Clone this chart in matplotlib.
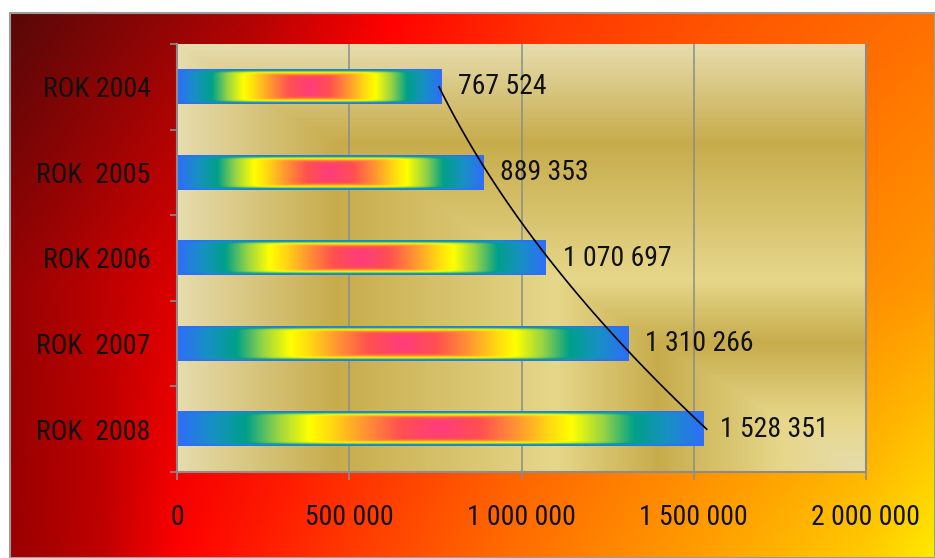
#!/usr/bin/env python3
# -*- coding: utf-8 -*-

# Liczba ... w latach 2004-2008, wykres słupkowy poziomy z gradientami

import numpy as np
import matplotlib
matplotlib.use("Agg")
import matplotlib.pyplot as plt
from matplotlib import font_manager
from matplotlib.colors import LinearSegmentedColormap, to_rgb
from matplotlib.patches import Rectangle
from matplotlib.ticker import FuncFormatter, FixedLocator

# dane
lata = ["ROK 2004", "ROK  2005", "ROK 2006", "ROK  2007", "ROK  2008"]
wartosci = [767524, 889353, 1070697, 1310266, 1528351]
os_x_ticks = [0, 500000, 1000000, 1500000, 2000000]

W_PX, H_PX = 935, 558

# czcionka wąska (jak Arial Narrow), jeśli jest zainstalowana
fonty = font_manager.fontManager.ttflist
waska = None
for f in fonty:
    if f.name in ("Liberation Sans Narrow", "Arial Narrow"):
        waska = (f.name, "normal")
        break
if waska is None:
    for f in fonty:
        if f.name in ("Roboto Condensed", "Open Sans Condensed", "Noto Sans Condensed"):
            waska = (f.name, "normal")
            break
if waska is None:
    for f in fonty:
        if f.name == "DejaVu Sans" and str(f.stretch) in ("condensed", "semi-condensed", "75", "87"):
            waska = ("DejaVu Sans", f.stretch)
            break

if waska is not None:
    plt.rcParams["font.family"] = [waska[0], "DejaVu Sans"]
    plt.rcParams["font.stretch"] = waska[1]
    ROZMIAR = 20
else:
    # brak wąskiej czcionki: Liberation Sans, mniejszy rozmiar (podobna szerokość)
    plt.rcParams["font.family"] = ["Liberation Sans", "DejaVu Sans"]
    ROZMIAR = 17


def fmt(v, pos=None):
    return f"{int(round(v)):,}".replace(",", " ")


def gradient_2d(rows, w, h):
    """Tło: interpolacja kolorów z kilku wierszy kluczowych (pozycje 0..1)"""
    xs = np.linspace(0, 1, w)
    ys = np.linspace(0, 1, h)
    row_pos = [r[0] for r in rows]
    row_img = []
    for _, stops in rows:
        px = [s[0] for s in stops]
        cols = np.array([to_rgb(s[1]) for s in stops])
        row_img.append(np.stack([np.interp(xs, px, cols[:, c]) for c in range(3)], axis=-1))
    row_img = np.array(row_img)
    img = np.empty((h, w, 3))
    for c in range(3):
        for j in range(w):
            img[:, j, c] = np.interp(ys, row_pos, row_img[:, j, c])
    return img


fig = plt.figure(figsize=(W_PX / 100, H_PX / 100), dpi=100, facecolor="white")

# tło całego wykresu (gradient "ogień")
bx0, bw, bh = 10 / W_PX, 925 / W_PX, 545 / H_PX
ax_bg = fig.add_axes([bx0, 0, bw, bh], zorder=-1)
ax_bg.axis("off")
rows = [
    (0.0, [(0.0, "#580808"), (0.12, "#800606"), (0.26, "#b00404"), (0.41, "#ff0000"),
           (0.58, "#ff3400"), (0.77, "#ff5400"), (1.0, "#ff7000")]),
    (0.5, [(0.0, "#960303"), (0.17, "#d80000"), (0.30, "#ff0000"), (0.52, "#ff4400"),
           (0.75, "#ff7400"), (1.0, "#ff9800")]),
    (1.0, [(0.0, "#9a0000"), (0.10, "#c00000"), (0.18, "#ff0000"), (0.37, "#ff3c00"),
           (0.55, "#ff7000"), (0.75, "#ffa000"), (0.93, "#ffcc00"), (1.0, "#ffea00")]),
]
ax_bg.imshow(gradient_2d(rows, 300, 180), extent=[0, 1, 0, 1], aspect="auto",
             interpolation="bilinear")
ax_bg.set_xlim(0, 1)
ax_bg.set_ylim(0, 1)
fig.add_artist(Rectangle((bx0, 0), bw, bh, transform=fig.transFigure, fill=False,
                         edgecolor="#9c9c9c", linewidth=1.5, zorder=5))

# obszar kreślenia
ax = fig.add_axes([177 / W_PX, 86 / H_PX, 689 / W_PX, 428 / H_PX])
ax.patch.set_visible(False)

# złote tło obszaru kreślenia (gradient prostokątny od prawego dolnego rogu)
gold = LinearSegmentedColormap.from_list("gold", [
    (0.0, "#e6dcac"), (0.12, "#e6d78a"), (0.30, "#c7ac4c"),
    (0.45, "#e6d78a"), (0.77, "#c7ac4c"), (1.0, "#e6dcac")])
gx, gy = np.meshgrid(np.linspace(0, 1, 400), np.linspace(1, 0, 300))
d_gold = np.maximum(1 - gx, gy)
ax.imshow(d_gold, cmap=gold, vmin=0, vmax=1, extent=[0, 1, 0, 1], transform=ax.transAxes,
          aspect="auto", zorder=0, interpolation="bilinear")

# gradient słupków
tecza = LinearSegmentedColormap.from_list("tecza", [
    (0.0, "#ff3c7c"), (0.15, "#ff5050"), (0.30, "#ff9a30"), (0.42, "#ffdc10"),
    (0.50, "#ffff00"), (0.62, "#98d444"), (0.74, "#00a08a"), (0.87, "#1890c4"),
    (1.0, "#2e6ef8")])
nx, ny = 400, 60
u = np.abs(np.linspace(-1, 1, nx))[None, :]
v = np.abs(np.linspace(-1, 1, ny))[:, None]
gv = np.interp(v, [0, 0.5, 0.65, 0.75, 0.82, 0.88, 0.94, 1.0],
               [0, 0.05, 0.2, 0.35, 0.5, 0.65, 0.8, 1.0])
d_bar = np.clip((u ** 6 + gv ** 6) ** (1 / 6), 0, 1)

pozycje = np.arange(len(lata))
wys = 0.2
for y, w in zip(pozycje, wartosci):
    ax.imshow(d_bar, cmap=tecza, vmin=0, vmax=1, extent=[0, w, y + wys, y - wys],
              aspect="auto", zorder=2, interpolation="bilinear")
    ax.annotate(fmt(w), xy=(w, y), xytext=(12, 0), textcoords="offset points",
                va="center", ha="left", fontsize=ROZMIAR, color="#111111", zorder=4)

# linia trendu (wielomian 2. stopnia)
wsp = np.polyfit(pozycje, wartosci, 2)
tt = np.linspace(0, len(lata) - 1, 100)
ax.plot(np.polyval(wsp, tt), tt, color="black", linewidth=1.2, zorder=3)

# osie
ax.set_xlim(0, 2000000)
ax.set_ylim(len(lata) - 0.5, -0.5)
ax.xaxis.set_major_locator(FixedLocator(os_x_ticks))
ax.xaxis.set_major_formatter(FuncFormatter(fmt))
ax.set_yticks(pozycje)
ax.set_yticklabels(lata)
ax.set_yticks(np.arange(-0.5, len(lata), 1), minor=True)

szary = "#8c8c8c"
ax.grid(axis="x", color=szary, linewidth=1.1, zorder=1)
ax.set_axisbelow(True)
for s in ["left", "bottom", "right"]:
    ax.spines[s].set_color(szary)
    ax.spines[s].set_linewidth(1.5)
ax.spines["top"].set_visible(False)

ax.tick_params(axis="x", length=6, width=1.2, color=szary, pad=17, labelsize=ROZMIAR,
               labelcolor="#111111")
ax.tick_params(axis="y", which="major", length=0, pad=19, labelsize=ROZMIAR,
               labelcolor="#111111")
ax.tick_params(axis="y", which="minor", length=5, width=1.2, color=szary)

fig.savefig("out.png", dpi=100)
